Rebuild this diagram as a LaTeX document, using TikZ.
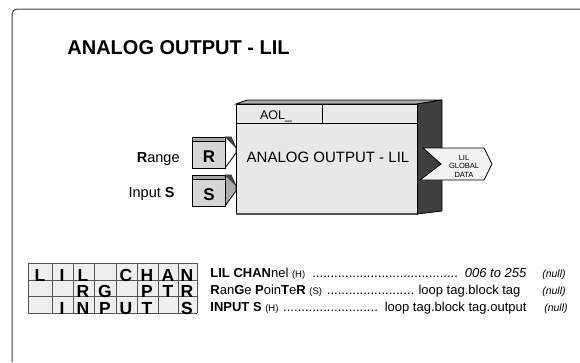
\documentclass[tikz,border=0pt]{standalone}
\usepackage{fontspec}
\setmainfont{Liberation Sans}
\usetikzlibrary{positioning}
\definecolor{cface}{HTML}{E8E8E8}
\definecolor{cside}{HTML}{404040}
\definecolor{ctop}{HTML}{A8A8A8}
\definecolor{ctab}{HTML}{D6D6D6}
\definecolor{cgrid}{HTML}{EFEFEF}
\definecolor{cline}{HTML}{555555}
\tikzset{
  every picture/.style={line width=0.8pt},
  lbl/.style={font=\fontsize{14.5}{17}\selectfont, anchor=base east, inner sep=0pt},
  tabtxt/.style={font=\fontsize{17}{19}\selectfont\bfseries, anchor=base, inner sep=0pt},
  gridltr/.style={font=\fontsize{17.5}{20}\selectfont\bfseries, anchor=base, inner sep=0pt},
  row/.style={font=\fontsize{13}{15}\selectfont, anchor=base west, inner sep=0pt},
  nul/.style={font=\fontsize{10.5}{12}\selectfont\itshape, anchor=base east, inner sep=0pt},
}
\newcommand{\hint}[1]{{\fontsize{9.5}{11}\selectfont #1}}
\newcommand{\dotrun}{\leaders\hbox to 0.28em{\hss.\hss}\hfill}

\begin{document}
\begin{tikzpicture}[x=1pt, y=-1pt]
  \useasboundingbox (0,0) rectangle (580,362);
  \draw[cside, line width=1pt, rounded corners=5pt] (12,362) -- (12,9) -- (580,9);
  \node[font=\fontsize{20}{24}\selectfont\bfseries, anchor=base west, inner sep=0pt] (title) at (67,54) {ANALOG OUTPUT - LIL};

  % function block
  \filldraw[fill=ctop, draw=black] (236,104) -- (247,100) -- (442,100) -- (417,104) -- cycle;
  \filldraw[fill=cside, draw=black] (417,104) -- (442,100) -- (442,211) -- (417,214) -- cycle;
  \node[draw, fill=cface, minimum width=181pt, minimum height=110pt, anchor=north west, inner sep=0pt] (blk) at (236,104) {};
  \draw[cline, line width=1.6pt] (236,214) -- (417,214);
  \draw (236,123) -- (417,123);
  \draw (322,104) -- (322,123);
  \node[font=\fontsize{12.5}{15}\selectfont, anchor=base, inner sep=0pt] (aol) at (276,119) {AOL\_};
  \node[font=\fontsize{15}{17}\selectfont, anchor=base, inner sep=0pt] (blktxt) at (328,162) {ANALOG OUTPUT - LIL};

  % inputs
  \foreach \y/\t/\s in {137/R/white, 175/S/ctab!80!black} {
    \filldraw[fill=\s, draw=black] (225,\y) -- (231,\y) -- (236,\y+11) -- (236,\y+16) -- (225,\y+31) -- cycle;
    \fill[cside] (225,\y) -- (231,\y) -- (236,\y+11) -- cycle;
    \filldraw[fill=ctop, draw=black] (192,\y) rectangle (225,\y+4);
    \node[draw, fill=ctab, minimum width=33pt, minimum height=27pt, anchor=north west, inner sep=0pt] (tab\t) at (192,\y+4) {};
    \node[tabtxt] (tab\t-txt) at (209,\y+25) {\t};
  }
  \node[lbl] (lblR) at (180,162) {\textbf{R}ange};
  \node[lbl] (lblS) at (175,197) {Input \textbf{S}};

  % output
  \filldraw[fill=white!95!black, draw=black] (423,148) -- (484,148) -- (492,164) -- (484,180) -- (420,180) -- (441,164) -- cycle;
  \node[font=\fontsize{7.5}{8.5}\selectfont, align=center, inner sep=0pt] (glob) at (464,166) {LIL\\GLOBAL\\DATA};

  % configuration grid
  \fill[cgrid] (28,263) rectangle (197,313);
  \foreach \x in {28,52,73,94,116,137,158,178,197} \draw[cline] (\x,263) -- (\x,313);
  \foreach \y in {263,280,296,313} \draw[cline] (28,\y) -- (197,\y);
  \foreach \yb/\lst in {280/{40/L,62/I,83/L,126/C,147/H,168/A,187/N},
                        296/{83/R,105/G,147/P,168/T,187/R},
                        313/{62/I,83/N,105/P,126/U,147/T,187/S}} {
    \foreach \xc/\t in \lst {\node[gridltr] (g\yb-\xc) at (\xc,\yb+1) {\t};}
  }

  \node[row] (r1) at (210,277) {\hbox to 316pt{\textbf{LIL CHAN}nel \hint{(H)} \dotrun\ \textit{006 to 255}}};
  \node[row] (r2) at (210,294) {\hbox to 310pt{\textbf{R}an\textbf{G}e \textbf{P}oin\textbf{T}e\textbf{R} \hint{(S)} \dotrun\ loop tag.block tag}};
  \node[row] (r3) at (210,311) {\hbox to 316pt{\textbf{INPUT S} \hint{(H)} \dotrun\ loop tag.block tag.output}};
  \node[nul] (n1) at (566,277) {(null)};
  \node[nul] (n2) at (566,294) {(null)};
  \node[nul] (n3) at (568,311) {(null)};
\end{tikzpicture}
\end{document}
